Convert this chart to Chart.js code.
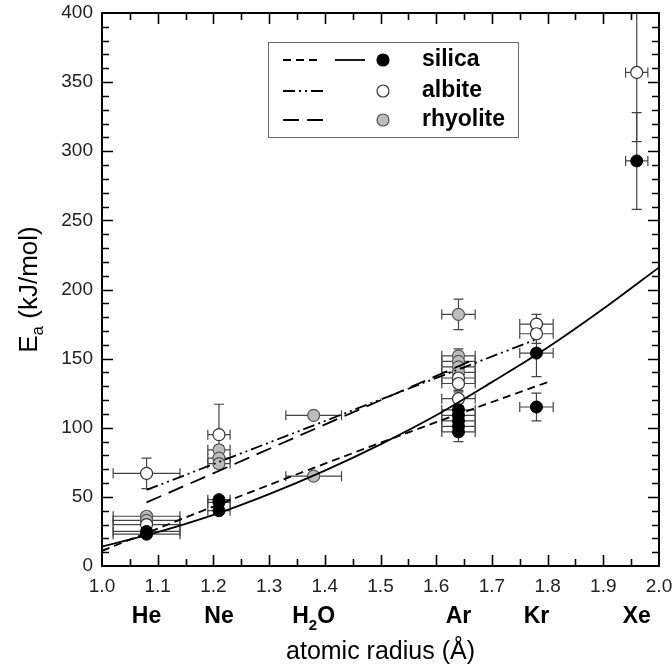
<!DOCTYPE html>
<html><head><meta charset="utf-8">
<script src="https://cdn.jsdelivr.net/npm/chart.js@4.4.1/dist/chart.umd.min.js"></script>
<style>html,body{margin:0;padding:0;background:#fff}#wrap{width:672px;height:669px;position:relative}</style>
</head><body><div id="wrap"><canvas id="c" width="672" height="669"></canvas></div>
<script>
// ---- tick values ----
const xTicks = [1.0,1.1,1.2,1.3,1.4,1.5,1.6,1.7,1.8,1.9,2.0];
const yTicks = [0,50,100,150,200,250,300,350,400];
const xMinorStep = 0.05;
const yMinorStep = 10;

// ---- element labels under x axis ----
const elementNames = ['He','Ne','H2O','Ar','Kr','Xe'];
const elementRadius = [1.08,1.21,1.38,1.64,1.78,1.96];

// ---- silica (filled black) ----
const silicaX    = [1.08,1.08,1.21,1.21,1.21,1.64,1.64,1.64,1.64,1.64,1.78,1.78,1.96];
const silicaY    = [25,23,48,46,40,113,109,105,101,97,154,115,293];
const silicaXErr = [0.06,0.06,0.02,0.02,0.02,0.03,0.03,0.03,0.03,0.03,0.03,0.03,0.02];
const silicaYErr = [2,2,2,2,2,5,5,5,5,7,17,10,35];

// ---- albite (open) ----
const albiteX    = [1.08,1.08,1.21,1.64,1.64,1.64,1.78,1.78,1.96];
const albiteY    = [67,30,95,136,132,121,175,168,357];
const albiteXErr = [0.06,0.06,0.02,0.03,0.03,0.03,0.03,0.03,0.02];
const albiteYErr = [11,2,22,5,5,5,7,7,50];

// ---- rhyolite (grey) ----
const rhyoliteX    = [1.08,1.08,1.21,1.21,1.21,1.38,1.38,1.64,1.64,1.64,1.64,1.64];
const rhyoliteY    = [36,33,84,78,74,109,65,182,152,148,144,140];
const rhyoliteXErr = [0.06,0.06,0.02,0.02,0.02,0.05,0.05,0.03,0.03,0.03,0.03,0.03];
const rhyoliteYErr = [2,2,3,3,3,2,2,11,5,5,5,5];

// ---- fitted curves ----
const silicaSolidX = [1.0,1.1,1.2,1.3,1.4,1.5,1.6,1.7,1.8,1.9,2.0];
const silicaSolidY = [14,24.5,37,52,69,88,109,133,158,186,216];
const silicaDashX  = [1.0,1.2,1.4,1.6,1.8];
const silicaDashY  = [11,43,74,104,133];
const albiteFitX   = [1.08,1.78];
const albiteFitY   = [55,164];
const rhyoliteFitX = [1.08,1.66];
const rhyoliteFitY = [46,148];

const FONT = '"Liberation Sans", Arial, Helvetica, sans-serif';

function pts(xs, ys, xe, ye) {
  return xs.map((x, i) => ({x: x, y: ys[i], xErr: xe ? xe[i] : 0, yErr: ye ? ye[i] : 0}));
}

const lineDefaults = {showLine: true, pointRadius: 0, borderColor: '#000', borderWidth: 1.8, fill: false, errorBars: false};

const datasets = [
  Object.assign({}, lineDefaults, {label: 'silica fit 1', data: pts(silicaSolidX, silicaSolidY), cubicInterpolationMode: 'monotone'}),
  Object.assign({}, lineDefaults, {label: 'silica fit 2', data: pts(silicaDashX, silicaDashY), borderDash: [8,5], cubicInterpolationMode: 'monotone'}),
  Object.assign({}, lineDefaults, {label: 'albite fit', data: pts(albiteFitX, albiteFitY), borderDash: [12,4,2,4,2,4]}),
  Object.assign({}, lineDefaults, {label: 'rhyolite fit', data: pts(rhyoliteFitX, rhyoliteFitY), borderDash: [16,8]}),
  {label: 'silica', data: pts(silicaX, silicaY, silicaXErr, silicaYErr), pointRadius: 6, pointBackgroundColor: '#000', pointBorderColor: '#000', pointBorderWidth: 1, showLine: false, errorBars: true},
  {label: 'albite', data: pts(albiteX, albiteY, albiteXErr, albiteYErr), pointRadius: 6, pointBackgroundColor: '#fff', pointBorderColor: '#333', pointBorderWidth: 1.2, showLine: false, errorBars: true},
  {label: 'rhyolite', data: pts(rhyoliteX, rhyoliteY, rhyoliteXErr, rhyoliteYErr), pointRadius: 6, pointBackgroundColor: '#bdbdbd', pointBorderColor: '#555', pointBorderWidth: 1.2, showLine: false, errorBars: true}
];

const decorPlugin = {
  id: 'decor',
  beforeDatasetsDraw(chart) {
    const ctx = chart.ctx, xs = chart.scales.x, ys = chart.scales.y, a = chart.chartArea;
    ctx.save();
    ctx.beginPath(); ctx.rect(a.left, a.top, a.right - a.left, a.bottom - a.top); ctx.clip();
    ctx.strokeStyle = '#444'; ctx.lineWidth = 1.2;
    chart.data.datasets.forEach(ds => {
      if (!ds.errorBars) return;
      ds.data.forEach(p => {
        const px = xs.getPixelForValue(p.x), py = ys.getPixelForValue(p.y);
        if (p.xErr) {
          const x1 = xs.getPixelForValue(p.x - p.xErr), x2 = xs.getPixelForValue(p.x + p.xErr);
          ctx.beginPath();
          ctx.moveTo(x1, py); ctx.lineTo(x2, py);
          ctx.moveTo(x1, py - 5); ctx.lineTo(x1, py + 5);
          ctx.moveTo(x2, py - 5); ctx.lineTo(x2, py + 5);
          ctx.stroke();
        }
        if (p.yErr) {
          const y1 = ys.getPixelForValue(p.y - p.yErr), y2 = ys.getPixelForValue(p.y + p.yErr);
          ctx.beginPath();
          ctx.moveTo(px, y1); ctx.lineTo(px, y2);
          ctx.moveTo(px - 5, y1); ctx.lineTo(px + 5, y1);
          ctx.moveTo(px - 5, y2); ctx.lineTo(px + 5, y2);
          ctx.stroke();
        }
      });
    });
    ctx.restore();
  },
  afterDraw(chart) {
    const ctx = chart.ctx, xs = chart.scales.x, ys = chart.scales.y, a = chart.chartArea;
    ctx.save();
    // frame
    ctx.strokeStyle = '#000'; ctx.lineWidth = 2;
    ctx.strokeRect(a.left, a.top, a.right - a.left, a.bottom - a.top);
    // ticks (inward)
    ctx.lineWidth = 1.6;
    ctx.beginPath();
    const nx = Math.round((xs.max - xs.min) / xMinorStep);
    for (let i = 1; i < nx; i++) {
      const v = xs.min + i * xMinorStep;
      const px = Math.round(xs.getPixelForValue(v)) + 0.5;
      const len = (i % 2 === 0) ? 11 : 7;
      ctx.moveTo(px, a.bottom); ctx.lineTo(px, a.bottom - len);
      ctx.moveTo(px, a.top); ctx.lineTo(px, a.top + len);
    }
    const ny = Math.round((ys.max - ys.min) / yMinorStep);
    for (let i = 1; i < ny; i++) {
      const v = ys.min + i * yMinorStep;
      const py = Math.round(ys.getPixelForValue(v)) + 0.5;
      const len = (v % 50 === 0) ? 11 : 7;
      ctx.moveTo(a.left, py); ctx.lineTo(a.left + len, py);
      ctx.moveTo(a.right, py); ctx.lineTo(a.right - len, py);
    }
    ctx.stroke();

    // element labels
    ctx.fillStyle = '#000';
    ctx.textBaseline = 'middle';
    const ey = 617;
    const EF = 23, ES = 15;
    elementNames.forEach((name, i) => {
      const cx = xs.getPixelForValue(elementRadius[i]);
      if (name === 'H2O') {
        ctx.font = 'bold ' + EF + 'px ' + FONT;
        const wH = ctx.measureText('H').width, wO = ctx.measureText('O').width;
        ctx.font = 'bold ' + ES + 'px ' + FONT;
        const w2 = ctx.measureText('2').width;
        let x0 = cx - (wH + w2 + wO) / 2;
        ctx.textAlign = 'left';
        ctx.font = 'bold ' + EF + 'px ' + FONT; ctx.fillText('H', x0, ey);
        ctx.font = 'bold ' + ES + 'px ' + FONT; ctx.fillText('2', x0 + wH, ey + 9);
        ctx.font = 'bold ' + EF + 'px ' + FONT; ctx.fillText('O', x0 + wH + w2, ey);
      } else {
        ctx.font = 'bold ' + EF + 'px ' + FONT;
        ctx.textAlign = 'center';
        ctx.fillText(name, cx, ey);
      }
    });

    // x title
    ctx.font = '25px ' + FONT;
    ctx.textAlign = 'center';
    ctx.fillText('atomic radius (\u00C5)', (a.left + a.right) / 2, 652);

    // y title (rotated)
    ctx.save();
    ctx.translate(30, (a.top + a.bottom) / 2);
    ctx.rotate(-Math.PI / 2);
    ctx.font = '26px ' + FONT;
    const wE = ctx.measureText('E').width;
    const wRest = ctx.measureText(' (kJ/mol)').width;
    ctx.font = '17px ' + FONT;
    const wa = ctx.measureText('a').width;
    let tx = -(wE + wa + wRest) / 2;
    ctx.textAlign = 'left';
    ctx.font = '26px ' + FONT; ctx.fillText('E', tx, 0);
    ctx.font = '17px ' + FONT; ctx.fillText('a', tx + wE, 8);
    ctx.font = '26px ' + FONT; ctx.fillText(' (kJ/mol)', tx + wE + wa, 0);
    ctx.restore();

    // legend box
    ctx.fillStyle = '#fff';
    ctx.strokeStyle = '#666'; ctx.lineWidth = 1;
    ctx.fillRect(268.5, 42.5, 250, 95);
    ctx.strokeRect(268.5, 42.5, 250, 95);
    const rows = [60, 91, 120];
    ctx.strokeStyle = '#000'; ctx.lineWidth = 1.8;
    // silica
    ctx.setLineDash([8,5]); ctx.beginPath(); ctx.moveTo(283, rows[0]); ctx.lineTo(322, rows[0]); ctx.stroke();
    ctx.setLineDash([]); ctx.beginPath(); ctx.moveTo(335, rows[0]); ctx.lineTo(365, rows[0]); ctx.stroke();
    // albite
    ctx.setLineDash([12,4,2,4,2,4]); ctx.beginPath(); ctx.moveTo(283, rows[1]); ctx.lineTo(327, rows[1]); ctx.stroke();
    // rhyolite
    ctx.setLineDash([16,8]); ctx.beginPath(); ctx.moveTo(283, rows[2]); ctx.lineTo(323, rows[2]); ctx.stroke();
    ctx.setLineDash([]);
    const markers = [['#000','#000'],['#fff','#333'],['#bdbdbd','#555']];
    markers.forEach((m, i) => {
      ctx.beginPath(); ctx.arc(383, rows[i], 6, 0, Math.PI * 2);
      ctx.fillStyle = m[0]; ctx.fill();
      ctx.strokeStyle = m[1]; ctx.lineWidth = 1.2; ctx.stroke();
    });
    ctx.fillStyle = '#000';
    ctx.font = 'bold 23px ' + FONT;
    ctx.textAlign = 'left'; ctx.textBaseline = 'middle';
    ['silica','albite','rhyolite'].forEach((t, i) => ctx.fillText(t, 422, rows[i]));
    ctx.restore();
  }
};

new Chart(document.getElementById('c'), {
  type: 'scatter',
  data: {datasets: datasets},
  options: {
    responsive: false, animation: false, devicePixelRatio: 1,
    layout: {padding: {left: 0, right: 13, top: 13, bottom: 0}},
    plugins: {legend: {display: false}, tooltip: {enabled: false}},
    elements: {line: {tension: 0}},
    scales: {
      x: {
        type: 'linear', min: 1, max: 2,
        afterBuildTicks: s => { s.ticks = xTicks.map(v => ({value: v})); },
        afterFit: s => { s.height = 103; s.paddingLeft = 0; s.paddingRight = 0; },
        ticks: {callback: v => Number(v).toFixed(1), font: {family: FONT, size: 19}, color: '#222', padding: 9, maxRotation: 0, autoSkip: false},
        grid: {display: false, drawTicks: false},
        border: {display: false}
      },
      y: {
        type: 'linear', min: 0, max: 400,
        afterBuildTicks: s => { s.ticks = yTicks.map(v => ({value: v})); },
        afterFit: s => { s.width = 102; s.paddingTop = 0; s.paddingBottom = 0; },
        ticks: {font: {family: FONT, size: 19}, color: '#222', padding: 9, autoSkip: false},
        grid: {display: false, drawTicks: false},
        border: {display: false}
      }
    }
  },
  plugins: [decorPlugin]
});
</script>
</body></html>
